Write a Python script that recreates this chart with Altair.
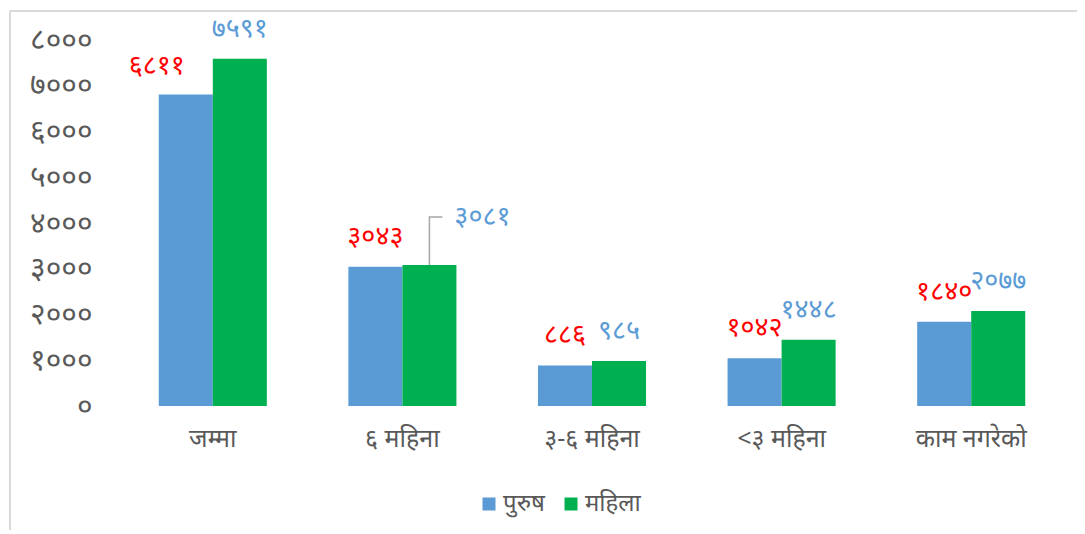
import altair as alt
import pandas as pd

categories = ["जम्मा", "६ महिना", "३-६ महिना", "<३ महिना", "काम नगरेको"]
series = ["पुरुष", "महिला"]
male = [6811, 3043, 886, 1042, 1840]
female = [7591, 3081, 985, 1448, 2077]
y_ticks = [0, 1000, 2000, 3000, 4000, 5000, 6000, 7000, 8000]
y_tick_labels = ["०", "१०००", "२०००", "३०००", "४०००", "५०००", "६०००", "७०००", "८०००"]
bar_colors = ["#5B9BD5", "#00B050"]
label_colors = ["#FF0000", "#5B9BD5"]

DEV = "०१२३४५६७८९"


def dev(n):
    return "".join(DEV[int(c)] for c in str(n))


rows = []
for i, c in enumerate(categories):
    rows.append(dict(cat=c, series=series[0], value=male[i], label=dev(male[i])))
    rows.append(dict(cat=c, series=series[1], value=female[i], label=dev(female[i])))
df = pd.DataFrame(rows)

FONT = "Noto Sans"
GRAY = "#595959"

label_array = "[" + ",".join("'" + s + "'" for s in y_tick_labels) + "]"

x_enc = alt.X(
    "cat:N",
    sort=categories,
    scale=alt.Scale(paddingInner=0.43, paddingOuter=0.215),
    axis=alt.Axis(
        title=None, labelAngle=0, domain=False, ticks=False,
        labelFontSize=25, labelColor=GRAY, labelPadding=20, labelFont=FONT,
    ),
)
xo_enc = alt.XOffset("series:N", sort=series)
y_enc = alt.Y(
    "value:Q",
    scale=alt.Scale(domain=[0, 8000]),
    axis=alt.Axis(
        values=y_ticks, title=None, grid=False, domain=False, ticks=False,
        labelExpr=label_array + "[round(datum.value/1000)]",
        labelFontSize=30, labelPadding=26, labelColor=GRAY, labelFont=FONT,
    ),
)

base = alt.Chart(df)

bars = base.mark_bar().encode(
    x=x_enc,
    xOffset=xo_enc,
    y=y_enc,
    color=alt.Color(
        "series:N",
        sort=series,
        scale=alt.Scale(domain=series, range=bar_colors),
        legend=alt.Legend(
            title=None, orient="none", legendX=359, legendY=452,
            direction="horizontal", symbolType="square", symbolSize=169,
            symbolStrokeWidth=0, labelFontSize=24, labelColor=GRAY,
            labelFont=FONT, columnPadding=14, labelOffset=2,
        ),
    ),
)

text_color = alt.condition(
    "datum.series == '" + series[0] + "'",
    alt.value(label_colors[0]),
    alt.value(label_colors[1]),
)

is_a = "(datum.cat == '" + categories[0] + "' && datum.series == '" + series[0] + "')"
is_b = "(datum.cat == '" + categories[1] + "' && datum.series == '" + series[1] + "')"

TFS = 27
txt_normal = base.transform_filter(
    "!" + is_a + " && !" + is_b
).mark_text(fontSize=TFS, font=FONT, baseline="middle", dy=-30).encode(
    x=x_enc, xOffset=xo_enc, y=y_enc, text="label:N", color=text_color
)
txt_a = base.transform_filter(is_a).mark_text(
    fontSize=TFS, font=FONT, baseline="middle", dy=-28, dx=-29
).encode(x=x_enc, xOffset=xo_enc, y=y_enc, text="label:N", color=text_color)
txt_b = base.transform_filter(is_b).mark_text(
    fontSize=TFS, font=FONT, baseline="middle", dy=-48, dx=53
).encode(x=x_enc, xOffset=xo_enc, y=y_enc, text="label:N", color=text_color)

leader = base.transform_filter(is_b).mark_point(
    shape="M0,0 L0,-48 L13,-48", size=4, filled=False, stroke="#A6A6A6",
    strokeWidth=1.5, opacity=1,
).encode(x=x_enc, xOffset=xo_enc, y=y_enc)

frame_df = pd.DataFrame({"k": [0]})
frame_top = alt.Chart(frame_df).mark_rule(color="#D9D9D9", strokeWidth=2).encode(
    x=alt.value(-108), x2=alt.value(960), y=alt.value(-29)
)
frame_left = alt.Chart(frame_df).mark_rule(color="#D9D9D9", strokeWidth=2).encode(
    x=alt.value(-108), y=alt.value(-29), y2=alt.value(500)
)

chart = alt.layer(
    frame_top, frame_left, bars, leader, txt_normal, txt_a, txt_b
).properties(
    width=948, height=366,
    autosize=alt.AutoSizeParams(type="none"),
    padding={"left": 110, "top": 32, "right": 11, "bottom": 124},
    background="white",
).configure_view(stroke=None)

chart.save("out.html", embed_options={"renderer": "svg", "actions": False})
